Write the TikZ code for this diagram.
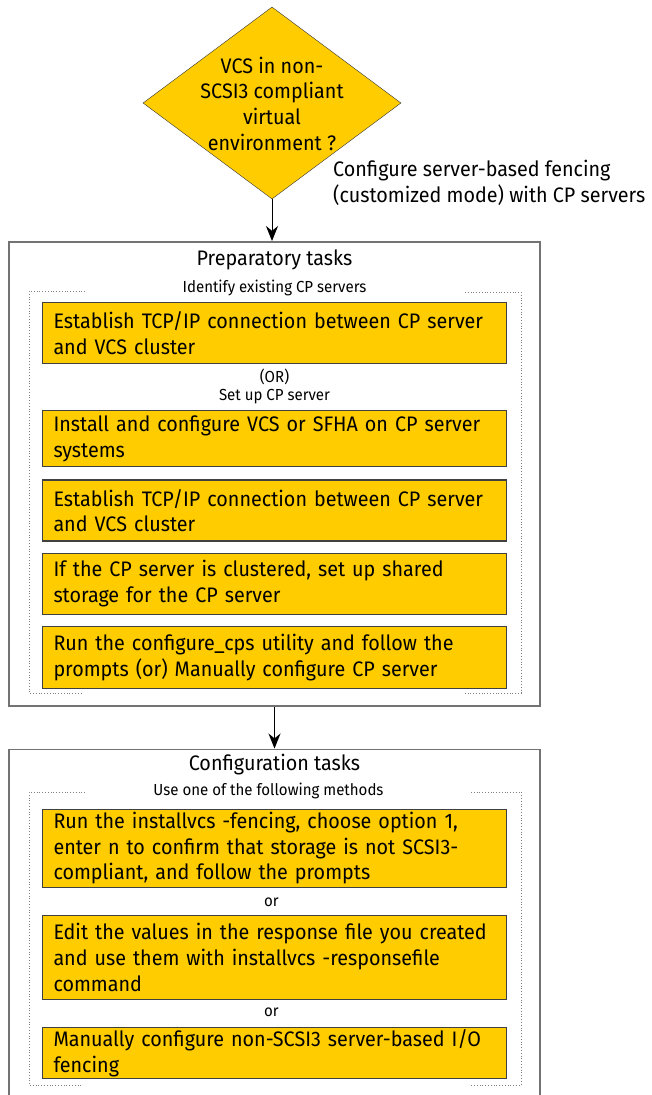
\documentclass[tikz,border=0pt]{standalone}
\usepackage{fontspec}
\setmainfont[FakeStretch=0.94]{Fira Sans}
\usetikzlibrary{shapes.geometric, arrows.meta, positioning, calc}
\definecolor{vyellow}{HTML}{FFCC00}

\begin{document}
\begin{tikzpicture}[x=1pt, y=-1pt,
  decision/.style={diamond, draw=black!80, fill=vyellow, minimum width=258pt, minimum height=192pt, inner sep=0pt},
  bigtext/.style={font=\fontsize{21pt}{25.7pt}\selectfont, align=center, inner sep=0pt},
  smalltext/.style={font=\fontsize{16pt}{20pt}\selectfont, inner sep=0pt},
  outerbox/.style={draw=black!55, line width=1.5pt, minimum width=531pt},
  taskbox/.style={draw=black!75, fill=vyellow, line width=1.2pt, minimum width=464pt, minimum height=61pt, text width=442pt, inner xsep=11pt, inner ysep=2pt, align=left, font=\fontsize{21pt}{25.7pt}\selectfont},
  dotframe/.style={draw=black!50, line width=0.8pt, dotted},
  flow/.style={-{Stealth[length=15pt, width=12pt]}, line width=0.9pt}
]
\useasboundingbox (0,0) rectangle (651,1095);
\clip (0,0) rectangle (651,1095);

% Decision
\node[decision] (vcs) at (272,103) {};
\node[bigtext] (vcstext) at (272,103.5) {VCS in non-\\SCSI3 compliant\\virtual\\environment ?};
\node[bigtext, align=left, anchor=west] (mode) at (333,182.5) {Configure server-based fencing\\(customized mode) with CP servers};

% Preparatory tasks
\node[outerbox, minimum height=464pt, anchor=north] (prep) at (274.5,241) {};
\node[bigtext, below=19pt of prep.north, anchor=center] (preptitle) {Preparatory tasks};
\node[smalltext, below=28pt of preptitle.center, anchor=center] (identify) {Identify existing CP servers};
\node[taskbox, below=61pt of prep.north] (tcpa) {Establish TCP/IP connection between CP server\\and VCS cluster};
\node[smalltext, below=13pt of tcpa.south, anchor=center] (or1) {(OR)};
\node[smalltext, below=32pt of tcpa.south, anchor=center] (setup) {Set up CP server};
\node[taskbox, minimum height=56pt, below=46pt of tcpa] (install) {Install and configure VCS or SFHA on CP server\\systems};
\node[taskbox, below=12pt of install] (tcpb) {Establish TCP/IP connection between CP server\\and VCS cluster};
\node[taskbox, below=11pt of tcpb] (shared) {If the CP server is clustered, set up shared\\storage for the CP server};
\node[taskbox, minimum height=62pt, below=11pt of shared] (cps) {Run the configure\_cps utility and follow the\\prompts (or) Manually configure CP server};
\draw[dotframe] (85,291) -- (29,291) -- (29,693) -- (83,693);
\draw[dotframe] (465,292) -- (521,292) -- (521,693) -- (465,693);

% Configuration tasks
\node[outerbox, minimum height=380pt, below=42pt of prep] (config) {};
\node[bigtext, below=16pt of config.north, anchor=center] (conftitle) {Configuration tasks};
\node[smalltext, below=26pt of conftitle.center, anchor=center, xshift=-6pt] (useone) {Use one of the following methods};
\node[taskbox, minimum height=78pt, below=60pt of config.north] (fencing) {Run the installvcs -fencing, choose option 1,\\enter n to confirm that storage is not SCSI3-\\compliant, and follow the prompts};
\node[smalltext, below=15pt of fencing.south, anchor=center, xshift=-3pt] (or2) {or};
\node[taskbox, minimum height=84pt, below=27pt of fencing] (respfile) {Edit the values in the response file you created\\and use them with installvcs -responsefile\\command};
\node[smalltext, below=12pt of respfile.south, anchor=center, xshift=-3pt] (or3) {or};
\node[taskbox, minimum height=51pt, below=27pt of respfile] (manual) {Manually configure non-SCSI3 server-based I/O\\fencing};
\draw[dotframe] (85,792) -- (29,792) -- (29,1085) -- (83,1085);
\draw[dotframe] (471,792) -- (521,792) -- (521,1085) -- (471,1085);

% Arrows
\draw[flow] (vcs.south) -- (vcs.south |- prep.north);
\draw[flow] (prep.south) -- (config.north);
\end{tikzpicture}
\end{document}
